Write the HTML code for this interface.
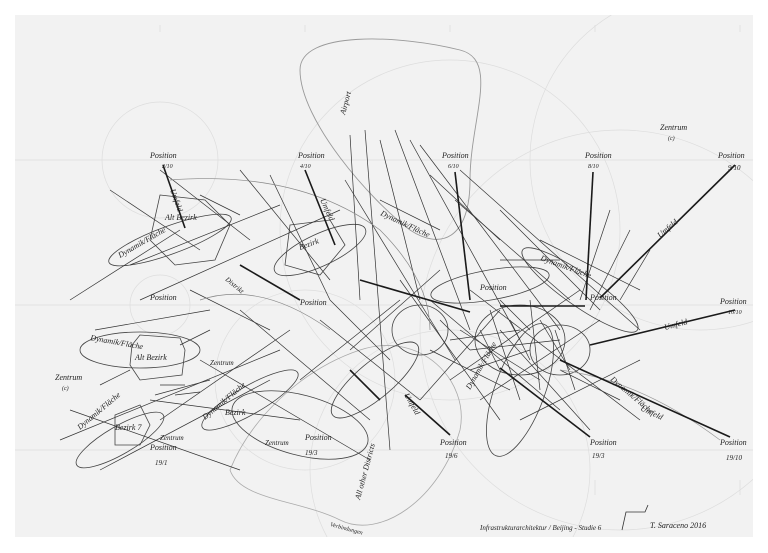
<!DOCTYPE html>
<html><head><meta charset="utf-8"><style>
html,body{margin:0;padding:0;background:#fff;width:768px;height:553px;overflow:hidden;position:relative}
svg{display:block;overflow:hidden;position:absolute;left:0;top:0}
text{font-family:"Liberation Serif",serif;font-style:italic;fill:#222}
</style></head><body>
<svg width="768" height="553" viewBox="0 0 768 553" xmlns="http://www.w3.org/2000/svg">
<defs><clipPath id="c"><rect x="15" y="15" width="738" height="522"/></clipPath></defs>
<rect x="15" y="15" width="738" height="522" fill="#f2f2f2"/>
<g clip-path="url(#c)">
<g stroke="#ddd" stroke-width="0.7" fill="none">
<line x1="15" y1="160" x2="753" y2="160"/>
<line x1="15" y1="305" x2="753" y2="305"/>
<line x1="15" y1="450" x2="753" y2="450"/>
<line x1="160" y1="25" x2="160" y2="32"/><line x1="305" y1="25" x2="305" y2="32"/><line x1="450" y1="25" x2="450" y2="32"/><line x1="595" y1="25" x2="595" y2="32"/><line x1="740" y1="25" x2="740" y2="32"/>
<line x1="595" y1="480" x2="595" y2="495"/><line x1="740" y1="480" x2="740" y2="495"/>
<circle cx="160" cy="160" r="58"/>
<circle cx="160" cy="305" r="30"/>
<circle cx="450" cy="230" r="170"/>
<circle cx="620" cy="330" r="200"/>
<circle cx="305" cy="380" r="90"/>
<circle cx="700" cy="160" r="170"/>
<circle cx="450" cy="470" r="140"/>
</g>
<path d="M300,70 C300,30 400,35 460,50 C500,60 470,120 470,180 C470,240 440,250 410,230 C370,200 300,120 300,70 Z" fill="none" stroke="#999" stroke-width="0.9"/>
<path d="M230,470 C250,420 300,370 360,350 C420,330 470,380 460,430 C440,500 380,540 340,520 C300,500 240,500 230,470 Z" fill="none" stroke="#aaa" stroke-width="0.8"/>
<g fill="none" stroke="#444" stroke-width="0.8">
<ellipse cx="170" cy="240" rx="65" ry="14" transform="rotate(-20 170 240)"/>
<ellipse cx="140" cy="350" rx="60" ry="18"/>
<ellipse cx="250" cy="400" rx="55" ry="14" transform="rotate(-30 250 400)"/>
<ellipse cx="120" cy="440" rx="50" ry="14" transform="rotate(-30 120 440)"/>
<ellipse cx="320" cy="250" rx="50" ry="16" transform="rotate(-25 320 250)"/>
<ellipse cx="490" cy="285" rx="60" ry="15" transform="rotate(-10 490 285)"/>
<ellipse cx="580" cy="290" rx="70" ry="16" transform="rotate(35 580 290)"/>
<ellipse cx="520" cy="390" rx="25" ry="70" transform="rotate(20 520 390)"/>
<ellipse cx="375" cy="380" rx="55" ry="18" transform="rotate(-40 375 380)"/>
<ellipse cx="520" cy="340" rx="45" ry="35"/>
<ellipse cx="560" cy="350" rx="30" ry="25"/>
<ellipse cx="420" cy="330" rx="28" ry="25"/>
<ellipse cx="300" cy="425" rx="70" ry="30" transform="rotate(15 300 425)"/>
<polygon points="160,195 205,200 230,225 215,260 175,265 150,240"/>
<polygon points="132,345 140,335 180,338 185,350 182,375 140,380 130,365"/>
<polygon points="115,415 140,405 150,425 140,445 115,445"/>
<polygon points="290,225 330,220 345,245 320,275 285,265"/>
</g>
<g stroke="#333" stroke-width="0.7" fill="none">
<line x1="110" y1="190" x2="200" y2="250"/><line x1="160" y1="170" x2="250" y2="240"/>
<line x1="130" y1="265" x2="280" y2="205"/><line x1="140" y1="300" x2="340" y2="210"/>
<line x1="70" y1="300" x2="180" y2="230"/><line x1="95" y1="330" x2="210" y2="310"/>
<line x1="190" y1="290" x2="270" y2="330"/><line x1="240" y1="170" x2="330" y2="280"/>
<line x1="270" y1="175" x2="330" y2="300"/><line x1="350" y1="135" x2="360" y2="300"/>
<line x1="365" y1="130" x2="390" y2="450"/><line x1="380" y1="140" x2="420" y2="300"/>
<line x1="395" y1="130" x2="470" y2="330"/><line x1="410" y1="140" x2="520" y2="340"/>
<line x1="420" y1="145" x2="560" y2="330"/><line x1="430" y1="175" x2="500" y2="240"/>
<line x1="345" y1="180" x2="455" y2="360"/><line x1="455" y1="200" x2="570" y2="300"/>
<line x1="500" y1="210" x2="600" y2="310"/><line x1="460" y1="170" x2="640" y2="330"/>
<line x1="540" y1="240" x2="640" y2="290"/><line x1="610" y1="210" x2="580" y2="300"/>
<line x1="630" y1="230" x2="590" y2="310"/><line x1="650" y1="250" x2="620" y2="300"/>
<line x1="60" y1="440" x2="280" y2="350"/><line x1="100" y1="470" x2="270" y2="380"/>
<line x1="70" y1="410" x2="240" y2="470"/><line x1="150" y1="400" x2="300" y2="420"/>
<line x1="200" y1="360" x2="370" y2="460"/><line x1="240" y1="310" x2="370" y2="420"/>
<line x1="320" y1="320" x2="420" y2="400"/><line x1="400" y1="280" x2="500" y2="420"/>
<line x1="430" y1="300" x2="560" y2="410"/><line x1="470" y1="290" x2="640" y2="420"/>
<line x1="500" y1="330" x2="590" y2="430"/><line x1="420" y1="400" x2="500" y2="310"/>
<line x1="450" y1="380" x2="580" y2="290"/><line x1="480" y1="400" x2="600" y2="320"/>
<line x1="520" y1="420" x2="640" y2="360"/><line x1="350" y1="350" x2="440" y2="270"/>
<line x1="300" y1="380" x2="400" y2="300"/><line x1="160" y1="420" x2="290" y2="330"/>
<line x1="200" y1="195" x2="240" y2="215"/><line x1="560" y1="370" x2="620" y2="400"/>
<line x1="380" y1="200" x2="440" y2="230"/><line x1="500" y1="260" x2="560" y2="260"/>
<line x1="460" y1="330" x2="540" y2="380"/><line x1="470" y1="350" x2="560" y2="340"/>
<line x1="430" y1="350" x2="510" y2="390"/><line x1="490" y1="310" x2="520" y2="400"/>
<line x1="530" y1="300" x2="540" y2="390"/><line x1="330" y1="300" x2="390" y2="360"/>
<line x1="100" y1="385" x2="130" y2="370"/><line x1="180" y1="345" x2="210" y2="330"/>
<line x1="160" y1="385" x2="185" y2="385"/><line x1="175" y1="395" x2="200" y2="392"/>
<line x1="155" y1="395" x2="210" y2="380"/>
<line x1="440" y1="320" x2="470" y2="350"/><line x1="480" y1="330" x2="500" y2="370"/>
<line x1="510" y1="320" x2="530" y2="360"/><line x1="450" y1="340" x2="520" y2="330"/>
<line x1="540" y1="320" x2="570" y2="370"/><line x1="470" y1="370" x2="530" y2="350"/>
<line x1="500" y1="300" x2="530" y2="330"/><line x1="555" y1="330" x2="575" y2="390"/>
</g>
<path d="M170,180 Q300,170 380,230 Q430,280 430,330" fill="none" stroke="#888" stroke-width="0.7"/>
<path d="M560,370 Q640,380 720,440" fill="none" stroke="#999" stroke-width="0.7"/>
<path d="M200,300 Q260,280 330,330" fill="none" stroke="#888" stroke-width="0.7"/>
<g stroke="#1a1a1a" stroke-width="1.6">
<line x1="163" y1="165" x2="185" y2="228"/>
<line x1="305" y1="170" x2="335" y2="245"/>
<line x1="455" y1="172" x2="470" y2="300"/>
<line x1="593" y1="172" x2="586" y2="300"/>
<line x1="735" y1="165" x2="600" y2="298"/>
<line x1="735" y1="310" x2="590" y2="345"/>
<line x1="590" y1="437" x2="500" y2="368"/>
<line x1="730" y1="437" x2="560" y2="360"/>
<line x1="450" y1="435" x2="405" y2="395"/>
<line x1="500" y1="306" x2="585" y2="306"/>
<line x1="360" y1="280" x2="470" y2="312"/>
<line x1="240" y1="265" x2="300" y2="300"/>
<line x1="350" y1="370" x2="380" y2="400"/>
</g>
<g font-size="8">
<text x="150" y="158">Position</text><text x="162" y="168" font-size="6">2/10</text>
<text x="298" y="158">Position</text><text x="300" y="168" font-size="6">4/10</text>
<text x="442" y="158">Position</text><text x="448" y="168" font-size="6">6/10</text>
<text x="585" y="158">Position</text><text x="588" y="168" font-size="6">8/10</text>
<text x="718" y="158">Position</text><text x="728" y="170" font-size="7">9/10</text>
<text x="720" y="304">Position</text><text x="728" y="314" font-size="6">10/10</text>
<text x="150" y="300">Position</text><text x="300" y="305">Position</text>
<text x="480" y="290">Position</text><text x="590" y="300">Position</text>
<text x="590" y="445">Position</text><text x="592" y="458" font-size="7">19/3</text>
<text x="720" y="445">Position</text><text x="726" y="460" font-size="7">19/10</text>
<text x="440" y="445">Position</text><text x="445" y="458" font-size="7">19/6</text>
<text x="305" y="440">Position</text><text x="305" y="455" font-size="7">19/3</text>
<text x="150" y="450">Position</text><text x="155" y="465" font-size="7">19/1</text>
<text x="660" y="130">Zentrum</text><text x="668" y="140" font-size="6">(c)</text>
<text x="55" y="380">Zentrum</text><text x="62" y="390" font-size="6">(c)</text>
<text x="90" y="340" transform="rotate(10 90 340)">Dynamik/Fläche</text>
<text x="120" y="258" transform="rotate(-30 120 258)">Dynamik/Fläche</text>
<text x="540" y="260" transform="rotate(20 540 260)">Dynamik/Fläche</text>
<text x="610" y="380" transform="rotate(40 610 380)">Dynamik/Fläche</text>
<text x="380" y="215" transform="rotate(25 380 215)">Dynamik/Fläche</text>
<text x="80" y="430" transform="rotate(-40 80 430)">Dynamik/Fläche</text>
<text x="205" y="420" transform="rotate(-40 205 420)">Dynamik/Fläche</text>
<text x="470" y="390" transform="rotate(-60 470 390)">Dynamik/Fläche</text>
<text x="345" y="115" transform="rotate(-75 345 115)">Airport</text>
<text x="360" y="500" transform="rotate(-75 360 500)">All other Districts</text>
<text x="330" y="526" transform="rotate(15 330 526)" font-size="6">Verbindungen</text>
<text x="660" y="238" transform="rotate(-40 660 238)">Umfeld</text>
<text x="665" y="330" transform="rotate(-15 665 330)">Umfeld</text>
<text x="640" y="410" transform="rotate(25 640 410)">Umfeld</text>
<text x="170" y="190" transform="rotate(70 170 190)">Umfeld</text>
<text x="320" y="200" transform="rotate(65 320 200)">Umfeld</text>
<text x="404" y="395" transform="rotate(60 404 395)">Umfeld</text>
<text x="165" y="220">Alt Bezirk</text><text x="135" y="360">Alt Bezirk</text>
<text x="300" y="250" transform="rotate(-20 300 250)">Bezirk</text>
<text x="225" y="415">Bezirk</text><text x="115" y="430">Bezirk 7</text>
<text x="210" y="365" font-size="7">Zentrum</text><text x="160" y="440" font-size="7">Zentrum</text>
<text x="265" y="445" font-size="7">Zentrum</text><text x="225" y="280" transform="rotate(40 225 280)" font-size="7">Distrikt</text>
<text x="480" y="530" font-size="7">Infrastrukturarchitektur / Beijing - Studie 6</text>
<text x="650" y="528" font-size="8">T. Saraceno 2016</text>
</g>
<path d="M622,530 L626,512 L645,512 L648,505" fill="none" stroke="#333" stroke-width="0.8"/>
</g>
</svg>
</body></html>
